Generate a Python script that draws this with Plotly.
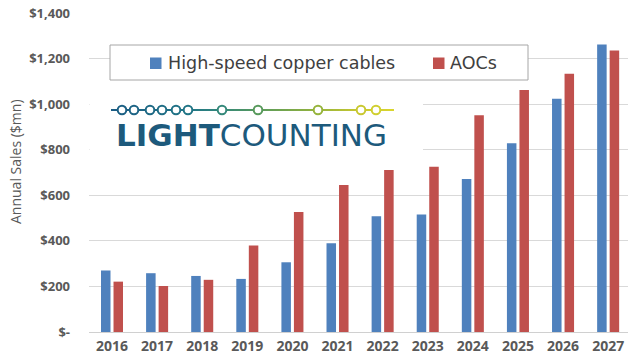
import plotly.graph_objects as go

# Annual sales by product line, $mn
years = ["2016", "2017", "2018", "2019", "2020", "2021",
         "2022", "2023", "2024", "2025", "2026", "2027"]
copper = [270, 258, 246, 233, 306, 389, 508, 516, 671, 828, 1024, 1262]
aocs = [221, 202, 229, 380, 527, 645, 711, 725, 951, 1062, 1133, 1235]
series_names = ["High-speed copper cables", "AOCs"]
series_colors = ["#4F81BD", "#C0504D"]

y_tickvals = [0, 200, 400, 600, 800, 1000, 1200, 1400]
y_ticktext = ["$-", "$200", "$400", "$600", "$800", "$1,000", "$1,200", "$1,400"]

W, H = 628, 360
L, R, T, B = 89, 628, 13, 332  # plot area in pixels


def px(x):
    return (x - L) / (R - L)


def py(y):
    return (B - y) / (B - T)


fig = go.Figure()
for name, vals, col in zip(series_names, [copper, aocs], series_colors):
    fig.add_trace(go.Bar(x=years, y=vals, name=name, marker_color=col,
                         marker_line_width=0, showlegend=False))

shapes = []
annotations = []

# legend box with coloured keys
shapes.append(dict(type="rect", xref="paper", yref="paper",
                   x0=px(110), x1=px(528), y0=py(80), y1=py(45),
                   line=dict(color="#a6a6a6", width=1), fillcolor="white",
                   layer="above"))
for (kx, tx), name, col in zip([(150, 166), (433, 448)], series_names, series_colors):
    shapes.append(dict(type="rect", xref="paper", yref="paper",
                       x0=px(kx), x1=px(kx + 11.5), y0=py(69), y1=py(57.5),
                       line=dict(width=0), fillcolor=col, layer="above"))
    annotations.append(dict(text=name, xref="paper", yref="paper",
                            x=px(tx), y=py(63), xanchor="left", yanchor="middle",
                            showarrow=False,
                            font=dict(family="DejaVu Sans", size=17.5, color="#404040")))

# logo backdrop
shapes.append(dict(type="rect", xref="paper", yref="paper",
                   x0=px(89.5), x1=px(423), y0=py(165), y1=py(86),
                   line=dict(width=0), fillcolor="white", layer="above"))

# logo: gradient line with rings
stops = [(111, (27, 92, 132)), (190, (33, 118, 134)), (222, (52, 136, 122)),
         (258, (88, 154, 92)), (318, (150, 180, 60)), (360, (200, 200, 48)),
         (394, (218, 214, 46))]


def grad(x):
    for (x0, c0), (x1, c1) in zip(stops[:-1], stops[1:]):
        if x <= x1:
            t = max(0.0, (x - x0) / (x1 - x0))
            return "rgb(%d,%d,%d)" % tuple(round(a + (b - a) * t) for a, b in zip(c0, c1))
    return "rgb(%d,%d,%d)" % stops[-1][1]


line_y = 110
xs = list(range(111, 395, 3))
for a in xs:
    b = min(a + 3, 394)
    shapes.append(dict(type="line", xref="paper", yref="paper",
                       x0=px(a), x1=px(b), y0=py(line_y), y1=py(line_y),
                       line=dict(color=grad((a + b) / 2), width=2), layer="above"))
rings = [122, 134, 150, 162, 176, 188, 222, 258, 318, 361, 376]
r = 4.3
for cx in rings:
    shapes.append(dict(type="circle", xref="paper", yref="paper",
                       x0=px(cx - r), x1=px(cx + r), y0=py(line_y + r), y1=py(line_y - r),
                       line=dict(color=grad(cx), width=2), fillcolor="white",
                       layer="above"))
annotations.append(dict(text="<b>LIGHT</b>COUNTING", xref="paper", yref="paper",
                        x=px(114), y=py(135), xanchor="left", yanchor="middle",
                        showarrow=False,
                        font=dict(family="DejaVu Sans", size=31, color="#1d5a7c")))

# y-axis title
annotations.append(dict(text="Annual Sales ($mn)", xref="paper", yref="paper",
                        x=px(15), y=py(162), xanchor="center", yanchor="middle",
                        textangle=-90, showarrow=False,
                        font=dict(family="Open Sans", size=14, color="#595959")))

fig.update_layout(
    width=W, height=H,
    margin=dict(l=L, r=W - R, t=T, b=H - B, pad=0),
    paper_bgcolor="white", plot_bgcolor="white",
    barmode="group", bargap=0.445, bargroupgap=0.24,
    shapes=shapes, annotations=annotations,
    showlegend=False,
)
fig.update_xaxes(type="category", range=[-0.51, 11.44], showgrid=False,
                 showline=False, ticks="", ticklabelstandoff=4,
                 tickfont=dict(family="Open Sans", size=14, color="#595959",
                               weight="bold"))
fig.update_yaxes(range=[0, 1400], tickvals=y_tickvals, ticktext=y_ticktext,
                 showgrid=True, gridcolor="#d9d9d9", gridwidth=1,
                 zeroline=True, zerolinecolor="#d0d0d0", zerolinewidth=1,
                 showline=False, ticks="", ticklabelstandoff=18,
                 tickfont=dict(family="Open Sans", size=13, color="#595959",
                               weight="bold"))

fig.write_html("out.html")
